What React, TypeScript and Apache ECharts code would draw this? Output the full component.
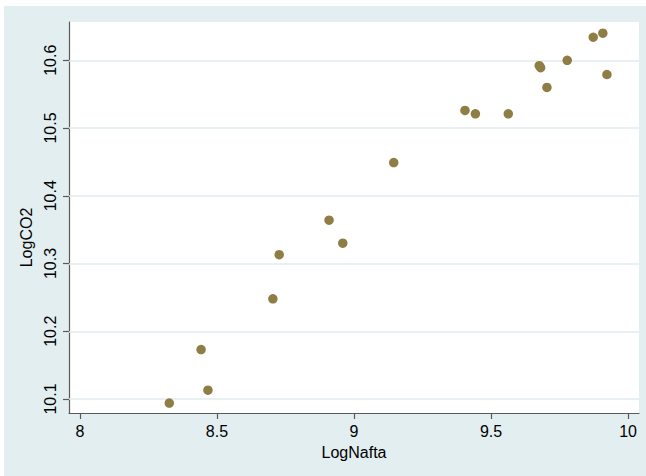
import React, { useEffect, useRef } from "react";
import * as echarts from "echarts";

const logNafta = [
  8.326, 8.442, 8.467, 8.704, 8.727, 8.909, 8.959, 9.145, 9.405, 9.443,
  9.563, 9.676, 9.681, 9.704, 9.778, 9.873, 9.908, 9.923,
];
const logCO2 = [
  10.094, 10.173, 10.113, 10.248, 10.313, 10.364, 10.330, 10.449, 10.526, 10.521,
  10.521, 10.592, 10.589, 10.560, 10.600, 10.634, 10.640, 10.579,
];
const xTicks = [8, 8.5, 9, 9.5, 10];
const yTicks = [10.1, 10.2, 10.3, 10.4, 10.5, 10.6];
const xRange = [7.96, 10.04];
const yRange = [10.0794, 10.6565];

const BG = "#E2EEF0";
const GRID = "#DFECEF";
const MARK = "#8F7D46";
const AXIS = "#5A5A5A";
const FONT = "Liberation Sans, Arial, sans-serif";

export default function App() {
  const ref = useRef<HTMLDivElement>(null);
  useEffect(() => {
    if (!ref.current) return;
    const chart = echarts.init(ref.current, null, { renderer: "svg" });
    const points = logNafta.map((x, i) => [x, logCO2[i]]);
    chart.setOption({
      animation: false,
      backgroundColor: "#ffffff",
      textStyle: { fontFamily: FONT },
      graphic: [
        {
          type: "rect",
          z: -100,
          shape: { x: 4, y: 6, width: 642, height: 470 },
          style: { fill: BG },
          silent: true,
        },
      ],
      grid: {
        left: 69,
        right: 7,
        top: 22,
        bottom: 63,
        show: true,
        backgroundColor: "#ffffff",
        borderWidth: 0,
      },
      xAxis: {
        type: "value",
        min: xRange[0],
        max: xRange[1],
        name: "LogNafta",
        nameLocation: "middle",
        nameGap: 31,
        nameTextStyle: { fontSize: 16, color: "#000", fontFamily: FONT },
        axisLine: { show: true, onZero: false, lineStyle: { color: AXIS, width: 1.2 } },
        axisTick: {
          show: true,
          length: 6,
          customValues: xTicks,
          lineStyle: { color: AXIS, width: 1.2 },
        },
        axisLabel: {
          customValues: xTicks,
          margin: 10,
          fontSize: 16,
          color: "#000",
          fontFamily: FONT,
        },
        splitLine: { show: false },
      },
      yAxis: {
        type: "value",
        min: yRange[0],
        max: yRange[1],
        name: "LogCO2",
        nameLocation: "middle",
        nameGap: 26,
        nameRotate: 90,
        nameTextStyle: {
          fontSize: 16,
          color: "#000",
          fontFamily: FONT,
          padding: [0, 40, 0, 0],
        },
        axisLine: { show: true, onZero: false, lineStyle: { color: AXIS, width: 1.2 } },
        axisTick: {
          show: true,
          length: 6,
          customValues: yTicks,
          lineStyle: { color: AXIS, width: 1.2 },
        },
        axisLabel: {
          customValues: yTicks,
          rotate: 90,
          margin: 11,
          fontSize: 16,
          color: "#000",
          fontFamily: FONT,
          formatter: (v: number) => v.toFixed(1),
        },
        splitLine: { show: false },
      },
      series: [
        {
          type: "scatter",
          data: points,
          symbol: "circle",
          symbolSize: 9.5,
          z: 3,
          itemStyle: { color: MARK, opacity: 1 },
          markLine: {
            silent: true,
            z: 1,
            symbol: "none",
            label: { show: false },
            lineStyle: { color: GRID, width: 1.5, type: "solid" },
            data: yTicks.map((v) => ({ yAxis: v })),
          },
        },
      ],
    });
    return () => chart.dispose();
  }, []);
  return (
    <div
      ref={ref}
      style={{ position: "fixed", left: 0, top: 0, width: 646, height: 476 }}
    />
  );
}
